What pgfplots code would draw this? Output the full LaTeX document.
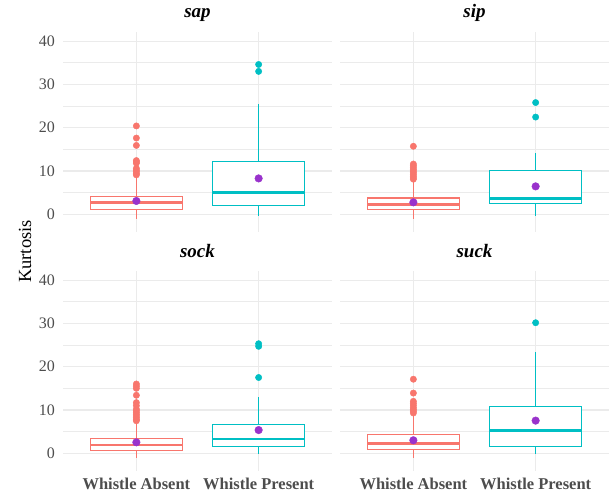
\documentclass[border=0pt]{standalone}
\usepackage{pgfplots}
\pgfplotsset{compat=1.18}
\usepgfplotslibrary{statistics}
\usepackage{fontspec}
\setmainfont{Liberation Serif}
\definecolor{cR}{HTML}{F8766D}
\definecolor{cC}{HTML}{00BFC4}
\definecolor{cP}{HTML}{9932CC}
\definecolor{gridc}{HTML}{EBEBEB}
\definecolor{txt}{HTML}{4D4D4D}
\pgfplotsset{
  panel/.style={
    scale only axis, width=269pt, height=200pt,
    xmin=0.4, xmax=2.6, ymin=-4.1, ymax=42.1,
    axis line style={draw=none}, major tick length=0pt, minor tick length=0pt,
    tick style={draw=none},
    xtick={1,2}, ytick={0,10,20,30,40}, minor ytick={5,15,25,35},
    xmajorgrids, ymajorgrids, yminorgrids,
    major grid style={gridc, line width=1.1pt},
    minor grid style={gridc, line width=0.6pt},
    /pgf/number format/assume math mode=true,
    yticklabel style={font=\fontsize{16}{16}\selectfont, text=txt, anchor=east, inner sep=0pt, xshift=-8pt},
    xticklabel style={font=\bfseries\fontsize{16.5}{16.5}\selectfont, text=txt, anchor=north, inner sep=0pt, yshift=-7pt},
    title style={at={(0.5,1)}, anchor=base, yshift=8pt, inner sep=0pt, font=\bfseries\itshape\fontsize{19}{19}\selectfont},
    boxplot/draw direction=y,
    boxplot/every box/.style={fill=white, line width=1.1pt},
    boxplot/every median/.style={line width=2.7pt},
    boxplot/every whisker/.style={line width=1.1pt},
  },
  bxR/.style={color=cR, mark=*, mark size=3.2pt, mark options={draw=none, fill=cR}},
  bxC/.style={color=cC, mark=*, mark size=3.2pt, mark options={draw=none, fill=cC}},
  mn/.style={only marks, color=cP, mark=*, mark size=3.8pt, mark options={draw=none, fill=cP}},
}
\begin{document}
\begin{tikzpicture}
% ---- sap ----
\begin{axis}[panel, at={(63pt,-32pt)}, anchor=north west, title={sap}, xticklabels={}]
\addplot[bxR, boxplot prepared={draw direction=y, draw position=1, lower whisker=-1.0, lower quartile=1.0, median=2.68, upper quartile=4.14, upper whisker=8.7, box extend=0.75, whisker extend=0}]
  table[row sep=\\, y index=0] {9.1\\ 9.4\\ 9.8\\ 10.2\\ 10.6\\ 11.8\\ 12.1\\ 12.4\\ 15.9\\ 17.6\\ 20.4\\};
\addplot[bxC, boxplot prepared={draw direction=y, draw position=2, lower whisker=-0.4, lower quartile=1.92, median=4.98, upper quartile=12.26, upper whisker=25.4, box extend=0.75, whisker extend=0}]
  table[row sep=\\, y index=0] {33.0\\ 34.6\\};
\addplot[mn] coordinates {(1,3.07) (2,8.28)};
\end{axis}
% ---- sip ----
\begin{axis}[panel, at={(340pt,-32pt)}, anchor=north west, title={sip}, xticklabels={}, yticklabels={}]
\addplot[bxR, boxplot prepared={draw direction=y, draw position=1, lower whisker=-1.0, lower quartile=1.0, median=2.22, upper quartile=3.75, upper whisker=7.7, box extend=0.75, whisker extend=0}]
  table[row sep=\\, y index=0] {8.1\\ 8.4\\ 8.8\\ 9.2\\ 9.6\\ 10.0\\ 10.4\\ 10.8\\ 11.2\\ 11.6\\ 15.7\\};
\addplot[bxC, boxplot prepared={draw direction=y, draw position=2, lower whisker=-0.4, lower quartile=2.45, median=3.68, upper quartile=10.04, upper whisker=14.2, box extend=0.75, whisker extend=0}]
  table[row sep=\\, y index=0] {22.45\\ 25.8\\};
\addplot[mn] coordinates {(1,2.76) (2,6.44)};
\end{axis}
% ---- sock ----
\begin{axis}[panel, at={(63pt,-271pt)}, anchor=north west, title={sock}, xticklabels={Whistle Absent, Whistle Present}]
\addplot[bxR, boxplot prepared={draw direction=y, draw position=1, lower whisker=-1.15, lower quartile=0.69, median=1.92, upper quartile=3.37, upper whisker=7.2, box extend=0.75, whisker extend=0}]
  table[row sep=\\, y index=0] {7.5\\ 7.8\\ 8.2\\ 8.6\\ 9.0\\ 9.4\\ 9.8\\ 10.2\\ 11.0\\ 11.7\\ 13.4\\ 15.0\\ 15.5\\ 16.0\\};
\addplot[bxC, boxplot prepared={draw direction=y, draw position=2, lower whisker=-0.2, lower quartile=1.53, median=3.3, upper quartile=6.74, upper whisker=12.9, box extend=0.75, whisker extend=0}]
  table[row sep=\\, y index=0] {17.5\\ 24.7\\ 25.3\\};
\addplot[mn] coordinates {(1,2.53) (2,5.36)};
\end{axis}
% ---- suck ----
\begin{axis}[panel, at={(340pt,-271pt)}, anchor=north west, title={suck}, xticklabels={Whistle Absent, Whistle Present}, yticklabels={}]
\addplot[bxR, boxplot prepared={draw direction=y, draw position=1, lower whisker=-1.0, lower quartile=0.85, median=2.3, upper quartile=4.3, upper whisker=9.0, box extend=0.75, whisker extend=0}]
  table[row sep=\\, y index=0] {9.3\\ 9.7\\ 10.1\\ 10.5\\ 11.0\\ 11.5\\ 12.0\\ 13.9\\ 17.1\\};
\addplot[bxC, boxplot prepared={draw direction=y, draw position=2, lower whisker=-0.23, lower quartile=1.46, median=5.3, upper quartile=10.77, upper whisker=23.3, box extend=0.75, whisker extend=0}]
  table[row sep=\\, y index=0] {30.15\\};
\addplot[mn] coordinates {(1,3.0) (2,7.54)};
\end{axis}
\node[rotate=90, font=\fontsize{18.5}{18.5}\selectfont] at (25pt,-251.5pt) {Kurtosis};
\pgfresetboundingbox
\path[use as bounding box] (0,0) rectangle (609pt,-492pt);
\end{tikzpicture}
\end{document}
